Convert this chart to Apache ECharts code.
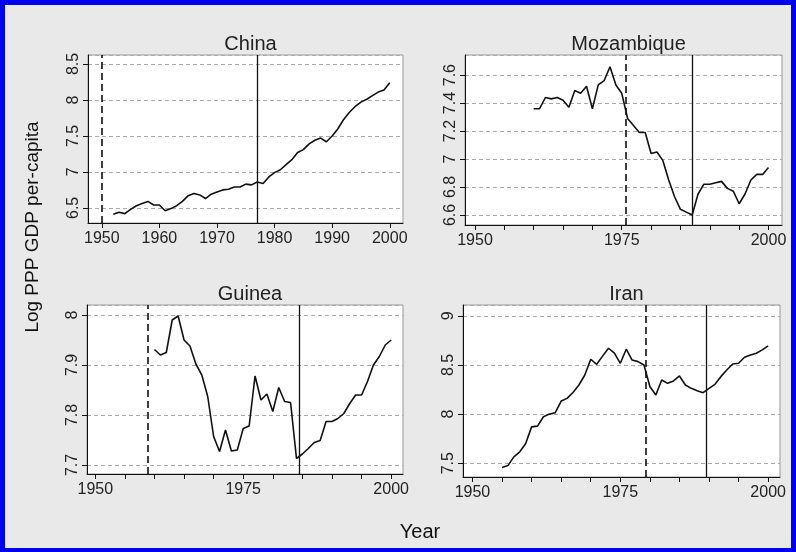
<!DOCTYPE html>
<html>
<head>
<meta charset="utf-8">
<script src="https://cdn.jsdelivr.net/npm/echarts@6/dist/echarts.min.js"></script>
<style>
html,body{margin:0;padding:0;background:#fff;}
#chart{width:796px;height:552px;}
</style>
</head>
<body>
<div id="chart"></div>
<script>
// ---- data ----
const panelTitles = ['China', 'Mozambique', 'Guinea', 'Iran'];

const chinaYears = [];
for (let y = 1952; y <= 2000; y++) chinaYears.push(y);
const chinaVals = [6.41,6.44,6.42,6.48,6.53,6.56,6.59,6.54,6.54,6.46,6.49,6.53,6.59,6.67,6.70,6.68,6.63,6.69,6.72,6.75,6.76,6.79,6.79,6.83,6.82,6.86,6.84,6.93,6.99,7.03,7.10,7.17,7.27,7.31,7.39,7.44,7.47,7.42,7.50,7.60,7.73,7.83,7.91,7.97,8.01,8.06,8.11,8.14,8.24];

const mozYears = [];
for (let y = 1960; y <= 2000; y++) mozYears.push(y);
const mozVals = [7.36,7.36,7.44,7.43,7.44,7.42,7.37,7.49,7.47,7.52,7.36,7.53,7.56,7.66,7.53,7.47,7.29,7.24,7.19,7.19,7.04,7.05,6.99,6.85,6.73,6.64,6.62,6.60,6.75,6.82,6.82,6.83,6.84,6.79,6.77,6.68,6.75,6.85,6.89,6.89,6.94];

const guiYears = [];
for (let y = 1960; y <= 2000; y++) guiYears.push(y);
const guiVals = [7.931,7.92,7.925,7.99,7.998,7.95,7.938,7.902,7.88,7.837,7.757,7.727,7.77,7.728,7.73,7.773,7.778,7.878,7.83,7.842,7.807,7.855,7.827,7.825,7.713,7.722,7.733,7.745,7.749,7.787,7.787,7.793,7.803,7.823,7.84,7.84,7.867,7.90,7.917,7.94,7.95];

const iranYears = [];
for (let y = 1955; y <= 2000; y++) iranYears.push(y);
const iranVals = [7.456,7.476,7.565,7.616,7.70,7.87,7.878,7.973,8.0,8.014,8.133,8.16,8.22,8.296,8.398,8.558,8.507,8.59,8.67,8.62,8.517,8.66,8.55,8.534,8.50,8.28,8.194,8.347,8.313,8.337,8.388,8.296,8.262,8.238,8.218,8.262,8.303,8.381,8.449,8.51,8.517,8.578,8.602,8.619,8.653,8.694];

// vertical reference lines: [dashed, solid]
const dashedLines = [1950, 1975.6, 1958.8, 1979.3];
const solidLines = [1977, 1987, 1984.4, 1989.5];

// tick label values
const xLabelStep = [10, 25, 25, 25];
const xTickStep = [10, 5, 5, 5];
const yStep = [0.5, 0.2, 0.1, 0.5];
const xRange = [[1947.6, 2002.3], [1948.3, 2002.3], [1948.6, 2002.0], [1948.4, 2002.0]];
const yRange = [[6.29, 8.625], [6.528, 7.744], [7.682, 8.02], [7.36, 9.11]];

// ---- layout ----
const grids = [
  {left: 88, top: 55, width: 315, height: 168},
  {left: 465, top: 55, width: 317, height: 170},
  {left: 87, top: 305, width: 316, height: 169},
  {left: 463, top: 305, width: 317, height: 172}
];
const titleTops = [29, 29, 279, 279];

const seriesData = [
  [chinaYears, chinaVals],
  [mozYears, mozVals],
  [guiYears, guiVals],
  [iranYears, iranVals]
];

const tickFont = "'Liberation Sans Narrow', 'Liberation Sans', Arial, sans-serif";
const mainFont = "'Liberation Sans', Arial, sans-serif";

function isMult(v, step) {
  const r = v / step;
  return Math.abs(r - Math.round(r)) < 1e-6;
}

const borderColor = '#0000ee';

const option = {
  backgroundColor: '#e9e9e9',
  animation: false,
  title: panelTitles.map((t, i) => ({
    text: t,
    left: grids[i].left + grids[i].width / 2,
    top: titleTops[i],
    textAlign: 'center',
    textStyle: {fontFamily: mainFont, fontSize: 20, fontWeight: 'normal', color: '#222'}
  })),
  grid: grids.map(g => Object.assign({}, g, {
    show: true, backgroundColor: '#fff', borderColor: '#999', borderWidth: 1, containLabel: false
  })),
  xAxis: grids.map((g, i) => ({
    type: 'value',
    gridIndex: i,
    min: xRange[i][0],
    max: xRange[i][1],
    minInterval: xTickStep[i],
    maxInterval: xTickStep[i],
    splitNumber: 12,
    axisLine: {show: true, onZero: false, lineStyle: {color: '#111', width: 1}},
    axisTick: {show: true, length: 5, lineStyle: {color: '#111'}},
    splitLine: {show: false},
    axisLabel: {
      fontFamily: tickFont, fontSize: 16, color: '#222', margin: 8,
      showMinLabel: false, showMaxLabel: false,
      formatter: v => isMult(v, xLabelStep[i]) ? String(Math.round(v)) : ''
    }
  })),
  yAxis: grids.map((g, i) => ({
    type: 'value',
    gridIndex: i,
    min: yRange[i][0],
    max: yRange[i][1],
    minInterval: yStep[i],
    maxInterval: yStep[i],
    splitNumber: 6,
    axisLine: {show: true, lineStyle: {color: '#111', width: 1}},
    axisTick: {show: true, length: 5, lineStyle: {color: '#111'}},
    splitLine: {show: true, lineStyle: {color: '#aaa', type: [4, 3], width: 1}},
    axisLabel: {
      fontFamily: tickFont, fontSize: 16, color: '#222', margin: 6, rotate: 90,
      showMinLabel: false, showMaxLabel: false,
      formatter: v => isMult(v, yStep[i]) ? String(parseFloat(v.toFixed(2))) : ''
    }
  })),
  series: seriesData.map((sd, i) => ({
    type: 'line',
    xAxisIndex: i,
    yAxisIndex: i,
    data: sd[0].map((y, k) => [y, sd[1][k]]),
    showSymbol: false,
    lineStyle: {color: '#111', width: 1.6},
    markLine: {
      silent: true,
      symbol: 'none',
      label: {show: false},
      data: [
        {xAxis: dashedLines[i], lineStyle: {type: [7, 4], color: '#111', width: 1.6}},
        {xAxis: solidLines[i], lineStyle: {type: 'solid', color: '#111', width: 1.3}}
      ]
    }
  })),
  graphic: [
    {
      type: 'text', x: 33, y: 227, rotation: Math.PI / 2,
      style: {text: 'Log PPP GDP per-capita', font: "19px 'Liberation Sans', Arial, sans-serif", fill: '#111', textAlign: 'center', textVerticalAlign: 'middle'}
    },
    {
      type: 'text', x: 420, y: 532,
      style: {text: 'Year', font: "20px 'Liberation Sans', Arial, sans-serif", fill: '#111', textAlign: 'center', textVerticalAlign: 'middle'}
    },
    {type: 'rect', x: 0, y: 0, z: 100, shape: {x: 0, y: 0, width: 796, height: 5}, style: {fill: borderColor}},
    {type: 'rect', x: 0, y: 0, z: 100, shape: {x: 0, y: 548, width: 796, height: 4}, style: {fill: borderColor}},
    {type: 'rect', x: 0, y: 0, z: 100, shape: {x: 0, y: 0, width: 5, height: 552}, style: {fill: borderColor}},
    {type: 'rect', x: 0, y: 0, z: 100, shape: {x: 791, y: 0, width: 5, height: 552}, style: {fill: borderColor}}
  ]
};

const chart = echarts.init(document.getElementById('chart'), null, {renderer: 'canvas'});
chart.setOption(option);
</script>
</body>
</html>
